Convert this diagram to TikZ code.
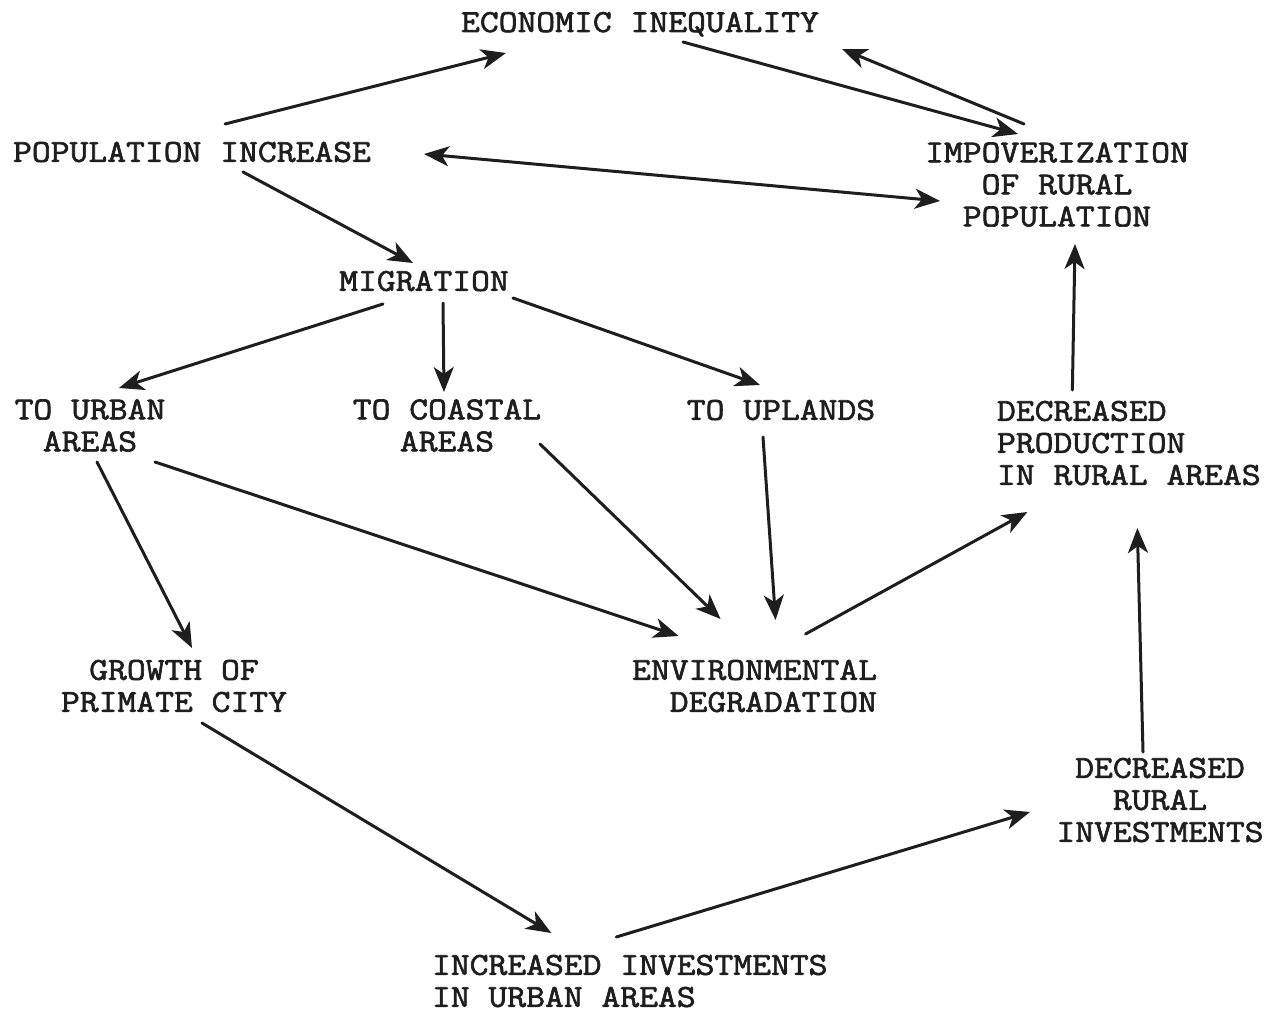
\documentclass[tikz,border=0pt]{standalone}
\usepackage{fontspec}
\newfontfamily\typew{Latin Modern Mono}[FakeBold=2, FakeStretch=1.143]
\usetikzlibrary{arrows.meta}
\definecolor{ink}{HTML}{1E1E1E}
\tikzset{
  lbl/.style={font=\typew\fontsize{32}{32}\selectfont, inner sep=0pt, outer sep=0pt, text=ink},
  tip/.tip={Stealth[length=25pt,width=20pt,inset=7pt]},
  arr/.style={-tip, line width=3pt, draw=ink, line cap=round},
  dbl/.style={tip-tip, line width=3pt, draw=ink},
}
\begin{document}
\begin{tikzpicture}[x=1pt,y=-1pt]
\useasboundingbox[fill=white] (0,0) rectangle (1287,1014);

% concepts
\node[lbl, text depth=0pt] (econ) at (640,22) {ECONOMIC INEQUALITY};
\node[lbl] (pop) at (192,152) {POPULATION INCREASE};
\node[lbl, align=center] (impov) at (1057,184.5) {IMPOVERIZATION\\OF RURAL\\POPULATION};
\node[lbl] (mig) at (424,281) {MIGRATION};
\node[lbl, align=center] (urban) at (90,425.5) {TO URBAN\\AREAS};
\node[lbl, align=center] (coastal) at (447,425.5) {TO COASTAL\\AREAS};
\node[lbl] (uplands) at (781,410) {TO UPLANDS};
\node[lbl, align=left, anchor=west] (prod) at (997,443) {DECREASED\\PRODUCTION\\IN RURAL AREAS};
\node[lbl, align=center] (growth) at (174,686) {GROWTH OF\\PRIMATE CITY};
\node[lbl, align=right, anchor=east] (env) at (877,686) {ENVIRONMENTAL\\DEGRADATION};
\node[lbl, align=center] (rinv) at (1160,800) {DECREASED\\RURAL\\INVESTMENTS};
\node[lbl, align=left, anchor=west] (uinv) at (432,981) {INCREASED INVESTMENTS\\IN URBAN AREAS};

% causal links
\draw[arr] ([shift={(33,-28)}]pop.center) -- ([shift={(-134,31)}]econ.center);
\draw[arr] ([shift={(43,20)}]econ.center) -- ([shift={(-39,-50.5)}]impov.center);
\draw[arr] ([shift={(-33,-60.5)}]impov.center) -- ([shift={(202,27)}]econ.center);
\draw[dbl] ([shift={(232,2)}]pop.center) -- ([shift={(-117,16.5)}]impov.center);
\draw[arr] ([shift={(51,20)}]pop.center) -- ([shift={(-11,-18)}]mig.center);
\draw[arr] ([shift={(-41,23)}]mig.center) -- ([shift={(29,-37.5)}]urban.center);
\draw[arr] ([shift={(19,22)}]mig.center) -- ([shift={(-3,-33.5)}]coastal.center);
\draw[arr] ([shift={(89,17)}]mig.center) -- ([shift={(-21,-25)}]uplands.center);
\draw[arr] ([shift={(7,36.5)}]urban.center) -- ([shift={(18,-38)}]growth.center);
\draw[arr] ([shift={(65,36.5)}]urban.center) -- ([shift={(-76,-50)}]env.center);
\draw[arr] ([shift={(93,18.5)}]coastal.center) -- ([shift={(-34,-67)}]env.center);
\draw[arr] ([shift={(-18,27)}]uplands.center) -- ([shift={(21,-66)}]env.center);
\draw[arr] ([shift={(51,-52)}]env.center) -- ([shift={(-101.5,69)}]prod.center);
\draw[arr] ([shift={(-56.5,-53)}]prod.center) -- ([shift={(18,59.5)}]impov.center);
\draw[arr] ([shift={(28,37)}]growth.center) -- ([shift={(-78.5,-48)}]uinv.center);
\draw[arr] ([shift={(-13.5,-44)}]uinv.center) -- ([shift={(-130,12)}]rinv.center);
\draw[arr] ([shift={(-17,-48)}]rinv.center) -- ([shift={(8.5,85)}]prod.center);
\end{tikzpicture}
\end{document}
